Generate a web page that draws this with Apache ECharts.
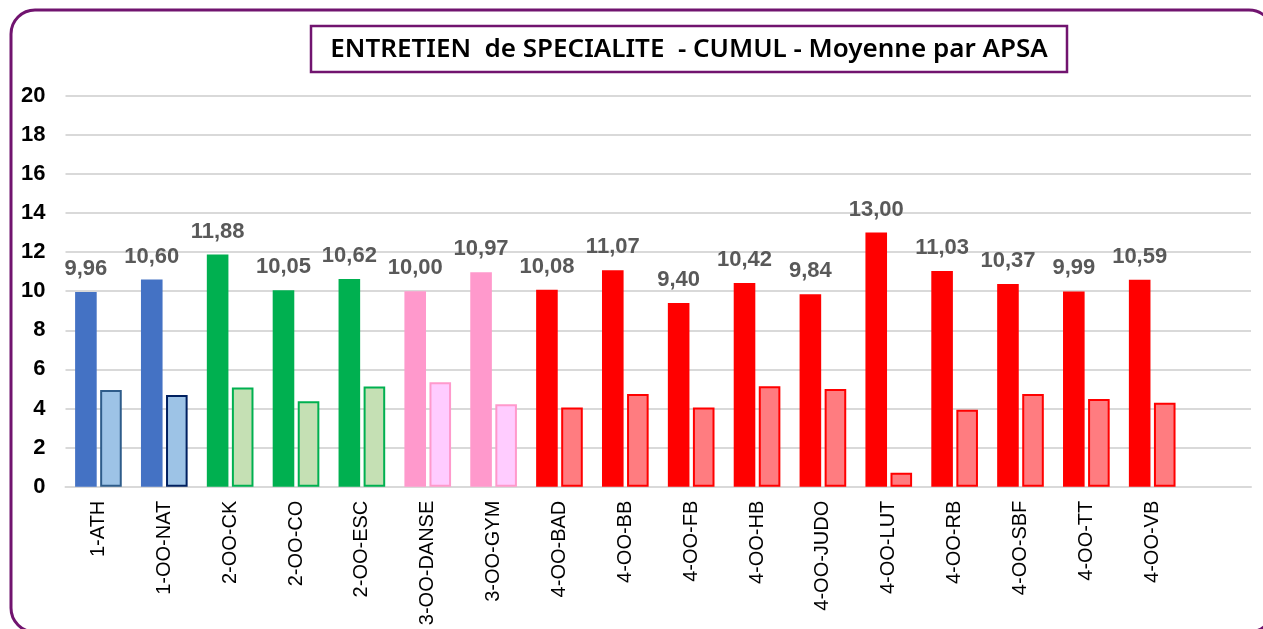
<!DOCTYPE html>
<html>
<head>
<meta charset="utf-8">
<script src="https://cdn.jsdelivr.net/npm/echarts@6/dist/echarts.min.js"></script>
<style>
  html, body { margin: 0; padding: 0; background: #fff; }
  #chart { width: 1263px; height: 629px; }
</style>
</head>
<body>
<div id="chart"></div>
<script>
// APSA categories (last one left empty, as in the original sheet)
const categories = ['1-ATH', '1-OO-NAT', '2-OO-CK', '2-OO-CO', '2-OO-ESC', '3-OO-DANSE', '3-OO-GYM',
  '4-OO-BAD', '4-OO-BB', '4-OO-FB', '4-OO-HB', '4-OO-JUDO', '4-OO-LUT', '4-OO-RB', '4-OO-SBF',
  '4-OO-TT', '4-OO-VB', '']
// moyenne cumul (labelled bars)
const moyenne = [9.96, 10.60, 11.88, 10.05, 10.62, 10.00, 10.97, 10.08, 11.07, 9.40, 10.42, 9.84,
  13.00, 11.03, 10.37, 9.99, 10.59, null]
// second bar (no label)
const second = [4.95, 4.69, 5.07, 4.37, 5.12, 5.34, 4.22, 4.05, 4.74, 4.05, 5.14, 5.00, 0.71,
  3.93, 4.74, 4.49, 4.30, null]
const yTicks = { min: 0, max: 20, interval: 2 }

// colour per group (first digit of the category)
const palette = {
  '1': { main: '#4472C4', light: '#9DC3E6', border: '#2E5C8A' },
  '2': { main: '#00B050', light: '#C5E0B4', border: '#00B050' },
  '3': { main: '#FF99CC', light: '#FFCCFF', border: '#FF99CC' },
  '4': { main: '#FF0000', light: '#FF7C80', border: '#FF0000' }
}
const borderOverride = { '1-OO-NAT': '#002060' }

const font = 'Liberation Sans, Arial, sans-serif'

const chart = echarts.init(document.getElementById('chart'))

chart.setOption({
  animation: false,
  graphic: [
    {
      type: 'rect',
      shape: { x: 11, y: 10, width: 1262, height: 622, r: 24 },
      style: { fill: 'none', stroke: '#71146F', lineWidth: 3 },
      z: 100
    },
    {
      type: 'rect',
      shape: { x: 311, y: 26, width: 756, height: 46 },
      style: { fill: '#fff', stroke: '#71146F', lineWidth: 2.5 },
      z: 100
    },
    {
      type: 'text',
      x: 689,
      y: 50,
      style: {
        text: 'ENTRETIEN  de SPECIALITE  - CUMUL - Moyenne par APSA',
        font: '600 26px "Noto Sans", sans-serif',
        fill: '#000',
        align: 'center',
        verticalAlign: 'middle'
      },
      z: 101
    }
  ],
  grid: {
    left: 65.5,
    right: 12,
    top: 95.7,
    bottom: 142.3,
    containLabel: false
  },
  xAxis: {
    type: 'category',
    data: categories,
    axisLine: { lineStyle: { color: '#D9D9D9', width: 2 } },
    axisTick: { show: false },
    axisLabel: {
      rotate: 90,
      interval: 0,
      margin: 14,
      color: '#000',
      fontFamily: font,
      fontSize: 20
    }
  },
  yAxis: {
    type: 'value',
    min: yTicks.min,
    max: yTicks.max,
    interval: yTicks.interval,
    axisLine: { show: false },
    axisTick: { show: false },
    splitLine: { lineStyle: { color: '#D9D9D9', width: 2 } },
    axisLabel: {
      margin: 20,
      color: '#000',
      fontFamily: font,
      fontWeight: 'bold',
      fontSize: 22
    }
  },
  series: [
    {
      name: 'Moyenne',
      type: 'bar',
      barWidth: 21.6,
      barGap: '16%',
      data: moyenne.map((v, i) => ({
        value: v,
        itemStyle: { color: categories[i] ? palette[categories[i][0]].main : '#000' }
      })),
      label: {
        show: true,
        position: 'top',
        distance: 12,
        color: '#595959',
        fontFamily: font,
        fontWeight: 'bold',
        fontSize: 22,
        formatter: p => p.value.toFixed(2).replace('.', ',')
      }
    },
    {
      name: 'Second',
      type: 'bar',
      barWidth: 21.6,
      barGap: '16%',
      data: second.map((v, i) => {
        const c = categories[i] ? palette[categories[i][0]] : palette['4']
        return {
          value: v,
          itemStyle: {
            color: c.light,
            borderColor: borderOverride[categories[i]] || c.border,
            borderWidth: 2
          }
        }
      })
    }
  ]
})
</script>
</body>
</html>
